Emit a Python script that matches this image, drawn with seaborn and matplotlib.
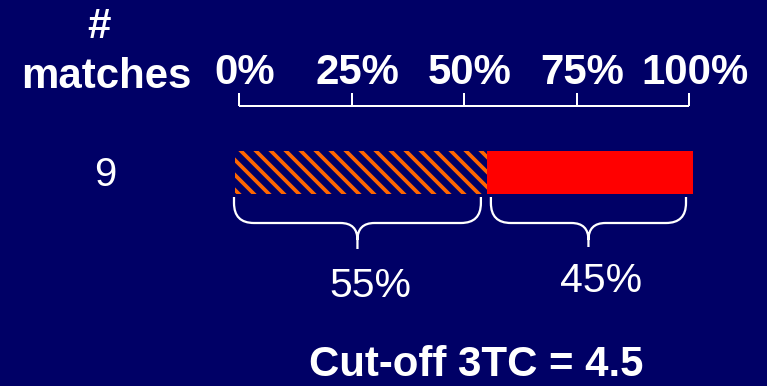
import numpy as np
import pandas as pd
import matplotlib
matplotlib.use("Agg")
import matplotlib.pyplot as plt
from matplotlib.path import Path
from matplotlib.patches import PathPatch
import seaborn as sns

# ---- data -------------------------------------------------------------
match_counts = ["9"]
segment_shares = [55, 45]                 # percent of matches per segment
segment_labels = ["55%", "45%"]
scale_ticks = [0, 25, 50, 75, 100]
scale_labels = ["0%", "25%", "50%", "75%", "100%"]
cutoff_value = 4.5

# ---- style ------------------------------------------------------------
NAVY = "#000066"
RED = "#FF0000"
ORANGE = "#FF6600"
WHITE = "#FFFFFF"

W, H, DPI = 767, 386, 90

sns.set_theme(style="white")
plt.rcParams["font.family"] = ["Liberation Sans", "DejaVu Sans"]
plt.rcParams["hatch.linewidth"] = 3.0


def pt(px):
    """Font size in points for a given em size in pixels."""
    return px * 72.0 / DPI


def px_rect(x0, y0, x1, y1):
    """Axes rectangle (figure fraction) from pixel box, origin top-left."""
    return [x0 / W, 1 - y1 / H, (x1 - x0) / W, (y1 - y0) / H]


fig = plt.figure(figsize=(W / DPI, H / DPI), dpi=DPI, facecolor=NAVY)

# ---- stacked bar ------------------------------------------------------
BAR_X0, BAR_X1 = 235, 693
ax_bar = fig.add_axes(px_rect(BAR_X0, 151, BAR_X1, 194))
ax_bar.set_facecolor("none")

cumulative = np.cumsum(segment_shares)
bar_df = pd.DataFrame({"matches": match_counts * len(cumulative),
                       "end": cumulative})
# draw the longest stack first so the shorter one sits on top of it
for i in reversed(range(len(cumulative))):
    sns.barplot(data=bar_df.iloc[[i]], x="end", y="matches", orient="h",
                color=RED, saturation=1, width=1.0, ax=ax_bar)

hatched = ax_bar.patches[-1]
hatched.set_facecolor(NAVY)
hatched.set_edgecolor(ORANGE)
hatched.set_linewidth(0)
hatched.set_hatch("\\\\")
if hasattr(hatched, "set_hatch_linewidth"):
    hatched.set_hatch_linewidth(3.0)
for p in ax_bar.patches[:-1]:
    p.set_linewidth(0)

ax_bar.set_xlim(0, 100)
ax_bar.set_ylim(0.5, -0.5)
ax_bar.axis("off")

# ---- percentage scale ---------------------------------------------------
SC_X0, SC_X1 = 239, 689
ax_sc = fig.add_axes(px_rect(SC_X0, 88, SC_X1, 112))
ax_sc.set_facecolor("none")
ax_sc.set_xlim(0, 100)
ax_sc.set_ylim(112, 88)
ax_sc.hlines(106, scale_ticks[0], scale_ticks[-1], color=WHITE, lw=1.6,
             clip_on=False)
ax_sc.vlines(scale_ticks, 93, 106, color=WHITE, lw=1.6, clip_on=False)
ax_sc.axis("off")

# ---- overlay in pixel coordinates for text and braces -------------------
ax = fig.add_axes([0, 0, 1, 1])
ax.set_xlim(0, W)
ax.set_ylim(H, 0)
ax.axis("off")
ax.patch.set_visible(False)

BOLD = pt(42)
REG = pt(41)

for t, lab in zip(scale_ticks, scale_labels):
    x = SC_X0 + t / 100 * (SC_X1 - SC_X0)
    ax.text(x + 6, 84, lab, color=WHITE, fontsize=BOLD, fontweight="bold",
            ha="center", va="baseline")

ax.text(99, 38, "#", color=WHITE, fontsize=BOLD, fontweight="bold",
        ha="center", va="baseline")
ax.text(106, 88, "matches", color=WHITE, fontsize=BOLD, fontweight="bold",
        ha="center", va="baseline")
ax.text(105, 186, match_counts[0], color=WHITE, fontsize=pt(40),
        ha="center", va="baseline")


def bar_px(pct):
    return BAR_X0 + pct / 100 * (BAR_X1 - BAR_X0)


def brace(x0, x1, y_top, y_mid, y_tip, r_end=20, r_mid=17):
    xc = (x0 + x1) / 2
    verts = [
        (x0, y_top), (x0, y_mid - r_end),
        (x0, y_mid), (x0 + r_end, y_mid),
        (xc - r_mid, y_mid),
        (xc, y_mid), (xc, y_mid + r_mid),
        (xc, y_tip),
        (xc, y_mid + r_mid),
        (xc, y_mid), (xc + r_mid, y_mid),
        (x1 - r_end, y_mid),
        (x1, y_mid), (x1, y_mid - r_end),
        (x1, y_top),
    ]
    codes = [Path.MOVETO, Path.LINETO,
             Path.CURVE3, Path.CURVE3,
             Path.LINETO,
             Path.CURVE3, Path.CURVE3,
             Path.LINETO,
             Path.MOVETO,
             Path.CURVE3, Path.CURVE3,
             Path.LINETO,
             Path.CURVE3, Path.CURVE3,
             Path.LINETO]
    ax.add_patch(PathPatch(Path(verts, codes), facecolor="none",
                           edgecolor=WHITE, lw=1.8, capstyle="butt"))
    return xc


starts = np.concatenate([[0], cumulative[:-1]])
insets = [(-1, 6), (4, 7)]
tips_y = [249, 247]
label_base = [297, 292]
for s, e, (il, ir), ty, lb, lab in zip(starts, cumulative, insets, tips_y,
                                       label_base, segment_labels):
    xc = brace(bar_px(s) + il, bar_px(e) - ir, 197, 223, ty)
    ax.text(xc + 13, lb, lab, color=WHITE, fontsize=REG,
            ha="center", va="baseline")

ax.text(476, 376, f"Cut-off 3TC = {cutoff_value}", color=WHITE,
        fontsize=BOLD, fontweight="bold", ha="center", va="baseline")

fig.savefig("out.png", dpi=DPI, facecolor=NAVY)
